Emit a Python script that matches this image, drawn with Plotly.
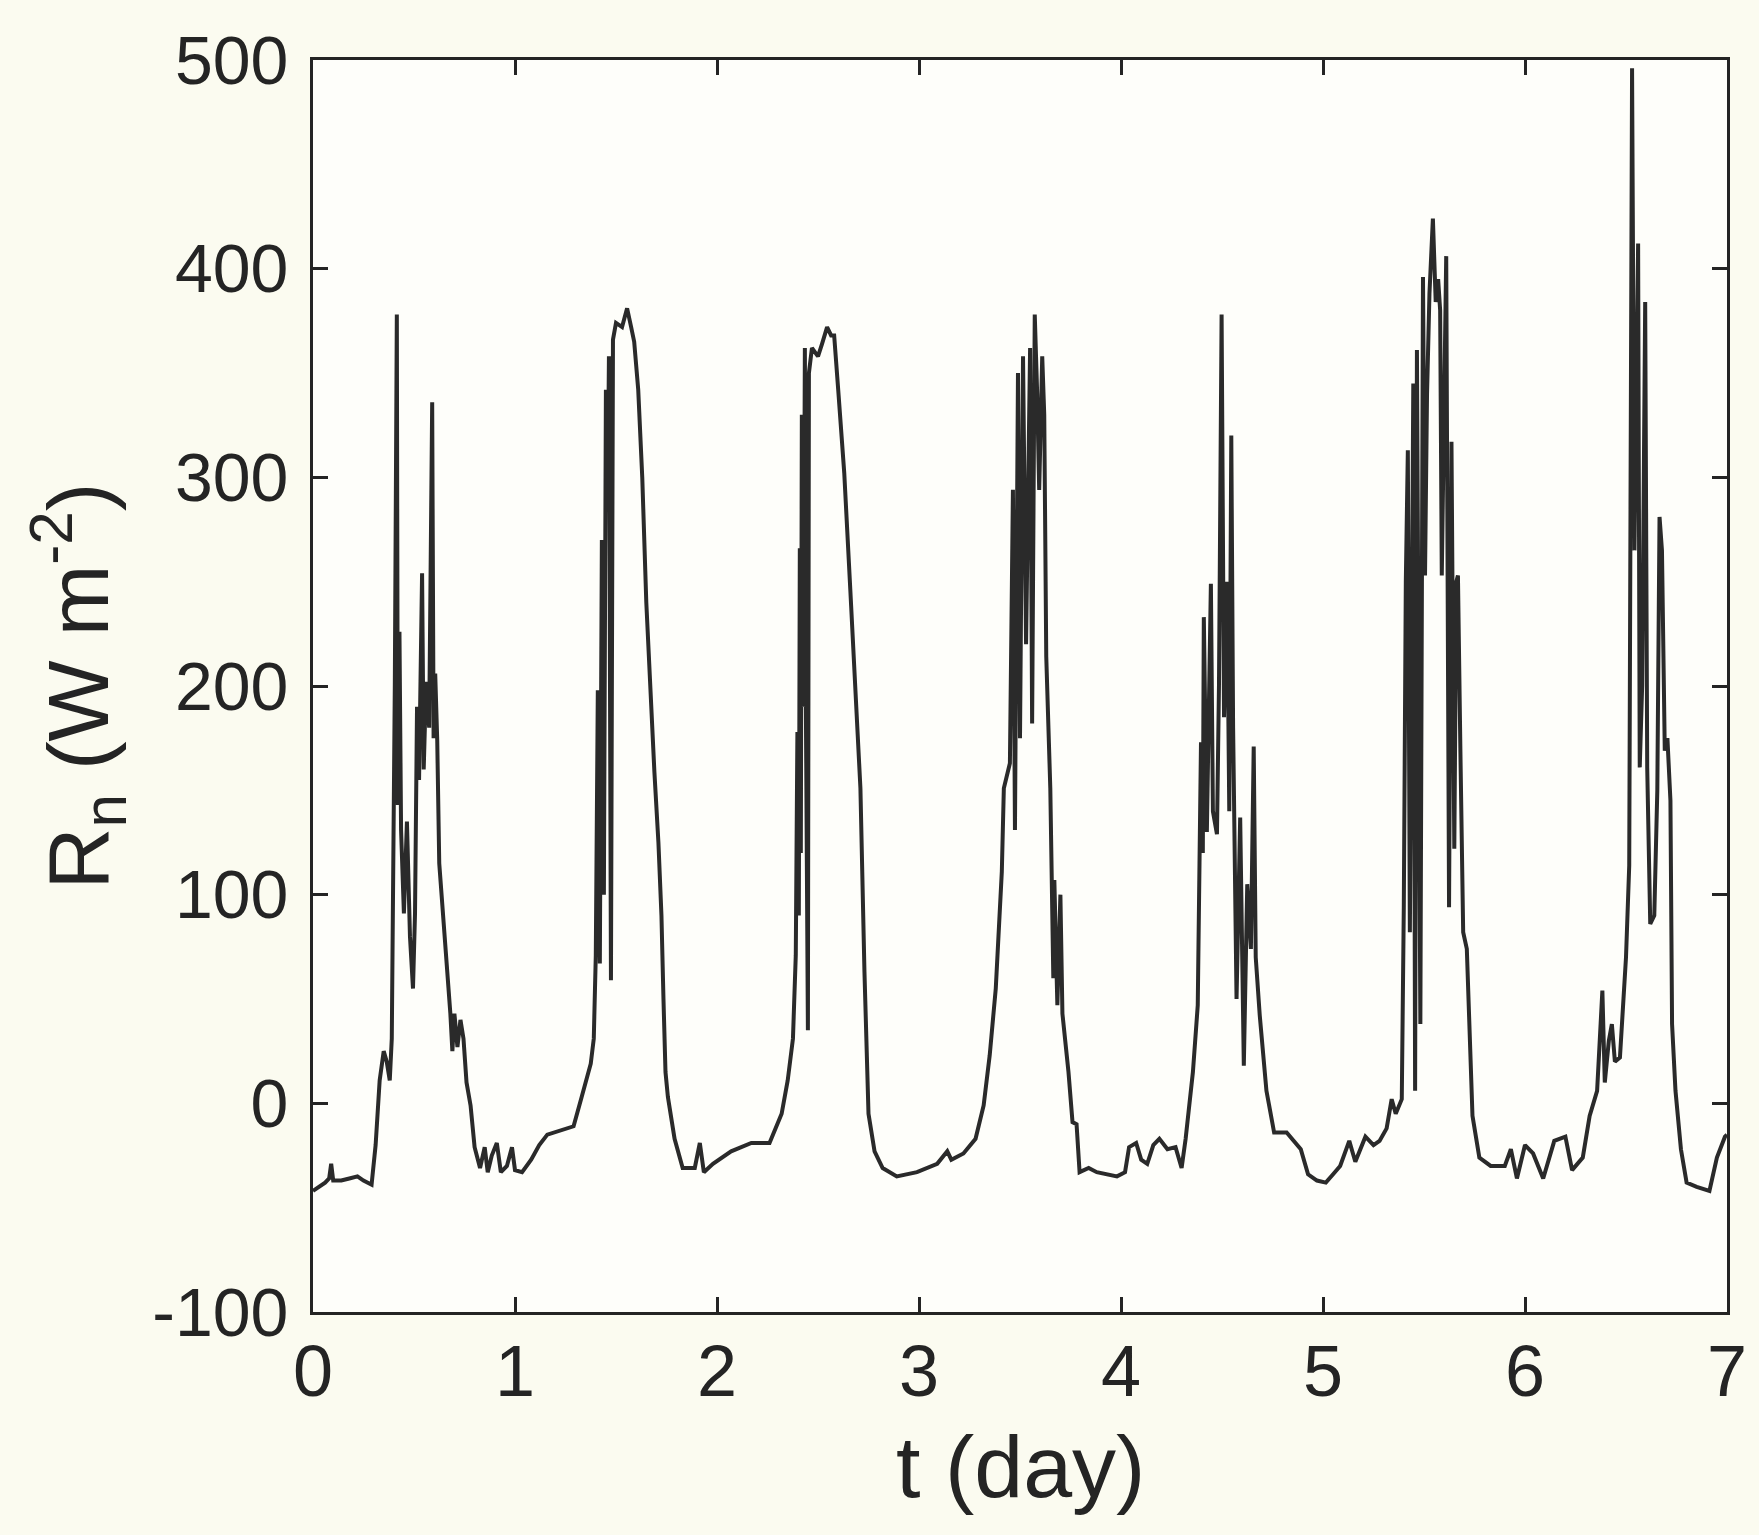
import plotly.graph_objects as go

# Net radiation time series over one week
t_day = [
    0.00, 0.03, 0.06, 0.08, 0.09, 0.10, 0.14, 0.18, 0.22, 0.25, 0.29, 0.31, 0.33, 0.35, 0.365, 0.38,
    0.39, 0.405, 0.415, 0.42, 0.428, 0.436, 0.45, 0.465, 0.48, 0.495, 0.505, 0.515, 0.525, 0.54, 0.548,
    0.56, 0.575, 0.59, 0.597, 0.605, 0.615, 0.625, 0.66, 0.68, 0.69, 0.70, 0.715, 0.73, 0.745, 0.76,
    0.78, 0.80, 0.827, 0.85, 0.865, 0.885, 0.91, 0.93, 0.96, 0.985, 1.00, 1.035, 1.08, 1.12, 1.16,
    1.22, 1.29, 1.33, 1.375, 1.39, 1.40, 1.41, 1.42, 1.43, 1.44, 1.45, 1.46, 1.465, 1.475, 1.485,
    1.50, 1.53, 1.555, 1.575, 1.59, 1.61, 1.63, 1.65, 1.67, 1.69, 1.71, 1.725, 1.735, 1.745, 1.757,
    1.79, 1.83, 1.89,
    1.915, 1.935, 1.98, 2.07, 2.17, 2.26, 2.32, 2.35, 2.376, 2.39, 2.398, 2.405, 2.41, 2.415, 2.42,
    2.428, 2.435, 2.44, 2.45, 2.455, 2.47, 2.50, 2.52, 2.545, 2.565, 2.58, 2.60, 2.63, 2.66, 2.68,
    2.71, 2.73, 2.75, 2.78, 2.82, 2.89, 2.99, 3.09, 3.14, 3.16, 3.22, 3.28, 3.32, 3.35, 3.38, 3.41,
    3.42, 3.45, 3.465, 3.475, 3.49, 3.50, 3.515, 3.53, 3.55, 3.56, 3.573, 3.585, 3.595, 3.61, 3.62,
    3.63, 3.65, 3.665, 3.67, 3.685, 3.70, 3.71, 3.74, 3.76, 3.78, 3.795, 3.84, 3.88, 3.98, 4.02,
    4.04, 4.075, 4.10, 4.13, 4.16, 4.19, 4.23, 4.27, 4.30, 4.32, 4.356, 4.38, 4.396, 4.405, 4.41,
    4.425, 4.445, 4.455, 4.475, 4.485, 4.498, 4.51, 4.525, 4.536, 4.546, 4.555, 4.572, 4.59, 4.608,
    4.625, 4.643, 4.657, 4.667, 4.687, 4.72, 4.758, 4.82, 4.89, 4.926, 4.97, 5.014, 5.05, 5.085,
    5.13, 5.16, 5.21, 5.25, 5.28, 5.315, 5.34, 5.36, 5.39, 5.40, 5.41, 5.42, 5.43, 5.447, 5.456,
    5.465, 5.482, 5.495, 5.505, 5.515, 5.527, 5.544, 5.558, 5.57, 5.58, 5.588, 5.61, 5.624, 5.636,
    5.65, 5.66, 5.668, 5.68, 5.694, 5.712, 5.74, 5.774, 5.83, 5.90, 5.93, 5.96, 6.00, 6.04, 6.09,
    6.145, 6.20, 6.233, 6.286, 6.32, 6.357, 6.383, 6.395, 6.415, 6.43, 6.445, 6.47, 6.50, 6.516,
    6.53, 6.542, 6.56, 6.568, 6.58, 6.595, 6.605, 6.62, 6.64, 6.655, 6.666, 6.678, 6.692, 6.705,
    6.72, 6.728, 6.745, 6.772, 6.80, 6.85, 6.913, 6.95, 6.99, 7.00,
]

rn = [
    -42, -40, -38, -36, -29, -37, -37, -36, -35, -37, -39, -20, 11, 25, 20, 11,
    31, 200, 378, 143, 226, 131, 91, 135, 80, 55, 91, 190, 155, 254, 160,
    202, 180, 336, 175, 206, 174, 115, 71, 43, 25, 43, 27, 40, 31, 10,
    -1, -21, -31, -21, -33, -25, -19, -33, -30, -21, -32, -33, -27, -20, -15,
    -13, -11, 3, 19, 31, 71, 198, 67, 270, 100, 342, 300, 358, 59, 366,
    374, 372, 381, 372, 365, 342, 300, 240, 195, 159, 125, 90, 50, 15, 3,
    -17, -31, -31,
    -19, -33, -29, -23, -19, -19, -5, 11, 31, 71, 178, 90, 266, 120, 330,
    190, 362, 190, 35, 350, 362, 358, 364, 372, 368, 368, 342, 302, 246, 206,
    151, 63, -5, -23, -31, -35, -33, -29, -23, -27, -24, -17, -1, 23, 55, 111,
    151, 163, 294, 131, 350, 175, 358, 220, 362, 182, 378, 340, 294, 358, 330,
    214, 151, 60, 107, 47, 100, 43, 15, -9, -10, -33, -31, -33, -35, -33,
    -21, -19, -27, -29, -20, -17, -22, -21, -31, -17, 15, 47, 173, 120, 233,
    130, 249, 140, 129, 200, 378, 185, 250, 140, 320, 180, 50, 137, 18,
    105, 74, 171, 70, 42, 6, -14, -14, -22, -34, -37, -38, -34, -30,
    -18, -28, -16, -20, -18, -12, 2, -5, 2, 94, 250, 313, 82, 345, 6,
    361, 38, 396, 253, 340, 388, 424, 384, 395, 380, 253, 406, 94, 317,
    122, 250, 253, 170, 82, 74, -6, -26, -30, -30, -22, -36, -20, -24, -36,
    -18, -16, -32, -26, -6, 6, 54, 10, 30, 38, 20, 22, 70, 114,
    496, 265, 412, 161, 200, 384, 161, 86, 90, 150, 281, 265, 169, 175,
    145, 38, 6, -22, -38, -40, -42, -26, -16, -15,
]

x_ticks = [0, 1, 2, 3, 4, 5, 6, 7]
y_ticks = [-100, 0, 100, 200, 300, 400, 500]

ink = "#242424"
font_family = "Liberation Sans, Arial, Helvetica, sans-serif"

fig = go.Figure()
fig.add_trace(go.Scatter(
    x=t_day, y=rn, mode="lines",
    line=dict(color="#2a2a2a", width=4),
    showlegend=False, hoverinfo="skip",
))

axis_common = dict(
    showgrid=False, zeroline=False,
    showline=True, linecolor=ink, linewidth=3,
    mirror="ticks", ticks="inside", ticklen=15, tickwidth=3, tickcolor=ink,
)

fig.update_xaxes(
    range=[0, 7], tickvals=x_ticks, ticktext=[str(v) for v in x_ticks],
    tickfont=dict(family=font_family, size=72, color=ink),
    ticklabelstandoff=-5,
    **axis_common,
)
fig.update_yaxes(
    range=[-100, 500], tickvals=y_ticks, ticktext=[str(v) for v in y_ticks],
    tickfont=dict(family=font_family, size=68, color=ink),
    ticklabelstandoff=8,
    title=dict(text="R<sub>n</sub> (W m<sup>-2</sup>)",
               font=dict(family=font_family, size=86, color=ink), standoff=16),
    **axis_common,
)

# x-axis title placed just under the day tick labels
fig.add_annotation(
    text="t (day)", xref="paper", yref="paper", x=0.5, y=-0.082,
    xanchor="center", yanchor="top", showarrow=False,
    font=dict(family=font_family, size=88, color=ink),
)

fig.update_layout(
    width=1759, height=1535,
    margin=dict(l=313, r=29, t=60, b=223),
    paper_bgcolor="#fbfbf0",
    plot_bgcolor="#fefefa",
)

fig.write_html("out.html")
